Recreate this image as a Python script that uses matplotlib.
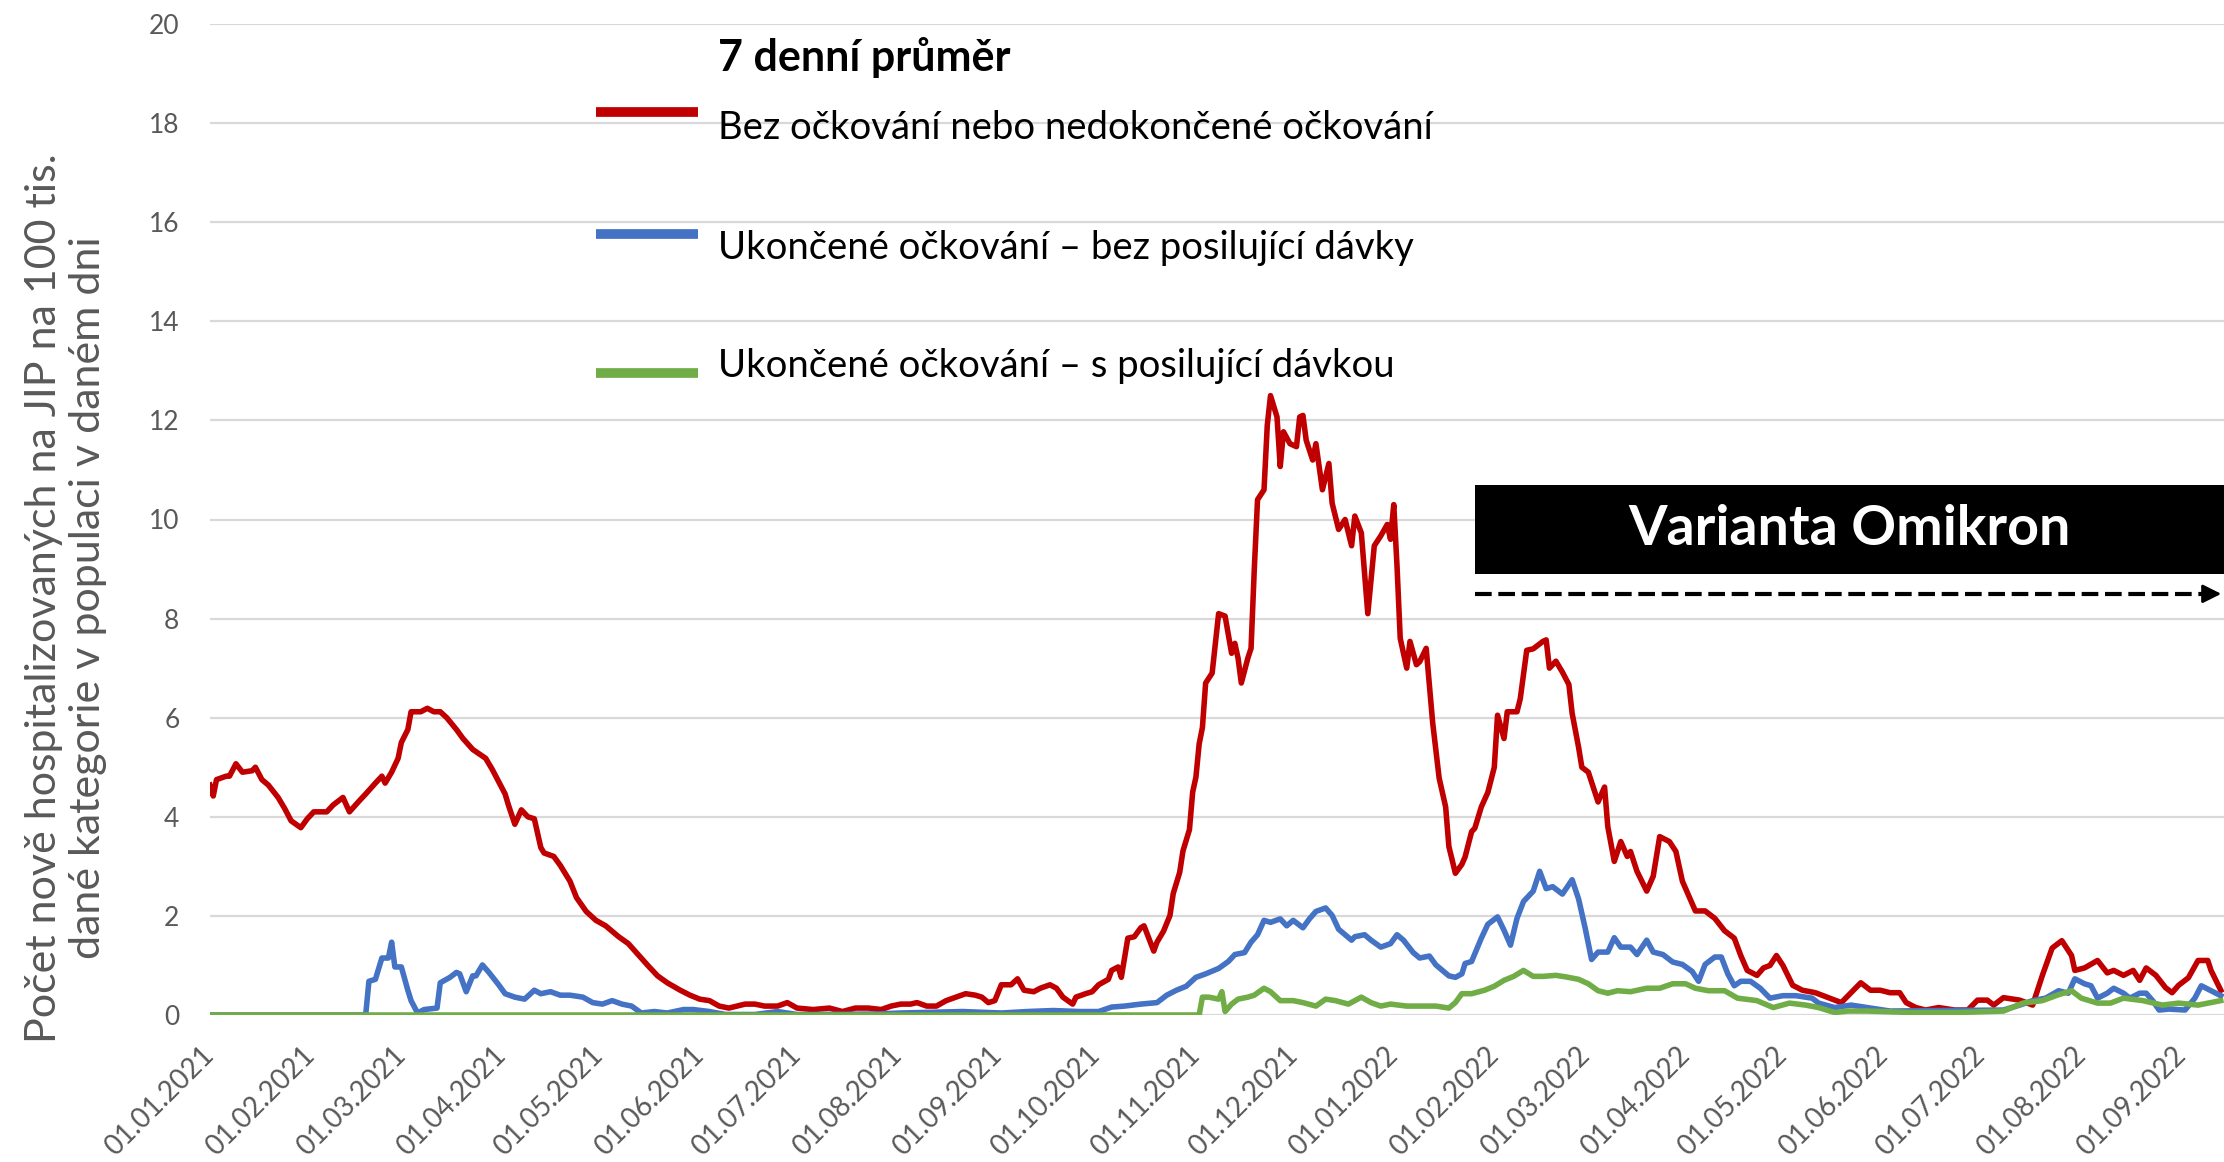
import matplotlib
matplotlib.use("Agg")
import matplotlib.pyplot as plt
import pandas as pd
from matplotlib.lines import Line2D
from matplotlib.patches import Rectangle

plt.rcParams['font.family'] = ['Lato', 'DejaVu Sans']

## ============================ Data ============================ ##
# day offsets from 01.01.2021
start = pd.Timestamp("2021-01-01")

red_days = [0, 1, 2, 5, 6, 8, 10, 13, 14, 16, 18, 21, 23, 25, 28, 30, 32, 36, 38, 41,
            43, 46, 48, 51, 53, 54, 56, 58, 59, 61, 62, 65, 67, 69, 71, 73, 76, 78, 81, 85,
            87, 89, 91, 92, 94, 96, 98, 100, 102, 103, 106, 108, 111, 113, 116, 119, 122, 126, 129, 132,
            135, 138, 141, 145, 148, 151, 154, 157, 160, 165, 168, 171, 175, 178, 181, 186, 191, 195, 199, 203,
            207, 210, 213, 216, 218, 221, 224, 227, 230, 233, 236, 238, 240, 242, 244, 247, 249, 251, 254, 256,
            259, 261, 263, 266, 267, 270, 272, 274, 277, 278, 280, 281, 283, 285, 287, 288, 291, 292, 294, 296,
            297, 299, 300, 302, 303, 304, 305, 306, 307, 309, 310, 311, 313, 315, 316, 317, 318, 320, 321, 322,
            323, 325, 326, 327, 329, 330, 331, 333, 335, 336, 337, 338, 340, 341, 343, 345, 346, 348, 350, 352,
            353, 355, 357, 359, 361, 363, 364, 365, 366, 367, 369, 370, 372, 373, 375, 377, 379, 381, 382, 384,
            386, 387, 389, 390, 392, 394, 396, 397, 399, 400, 403, 404, 406, 408, 411, 412, 413, 415, 417, 419,
            420, 422, 423, 425, 428, 430, 431, 433, 435, 437, 438, 440, 443, 445, 447, 450, 452, 454, 456, 458,
            461, 464, 467, 470, 472, 474, 477, 479, 481, 483, 485, 488, 491, 495, 499, 503, 506, 509, 512, 515,
            518, 521, 523, 526, 529, 533, 538, 542, 545, 548, 550, 553, 558, 562, 565, 568, 571, 574, 575, 578,
            582, 585, 587, 590, 593, 595, 597, 600, 603, 605, 607, 610, 613, 616, 617, 620]
red_vals = [4.64, 4.42, 4.75, 4.82, 4.82, 5.07, 4.9, 4.93, 5.0, 4.75, 4.64, 4.39, 4.17, 3.92, 3.78, 3.96, 4.1, 4.1, 4.24, 4.39,
            4.1, 4.32, 4.46, 4.68, 4.82, 4.68, 4.9, 5.18, 5.5, 5.76, 6.12, 6.12, 6.19, 6.12, 6.12, 6.0, 5.76, 5.58, 5.36, 5.18,
            4.96, 4.71, 4.46, 4.24, 3.85, 4.14, 4.0, 3.96, 3.38, 3.27, 3.2, 3.02, 2.7, 2.37, 2.09, 1.91, 1.8, 1.58, 1.44, 1.22,
            1.0, 0.79, 0.65, 0.5, 0.4, 0.32, 0.29, 0.18, 0.14, 0.22, 0.22, 0.18, 0.18, 0.25, 0.14, 0.11, 0.14, 0.07, 0.14, 0.14,
            0.11, 0.18, 0.22, 0.22, 0.25, 0.18, 0.18, 0.29, 0.36, 0.43, 0.4, 0.36, 0.25, 0.29, 0.61, 0.61, 0.73, 0.5, 0.47, 0.54,
            0.61, 0.54, 0.36, 0.22, 0.36, 0.43, 0.47, 0.61, 0.72, 0.9, 0.97, 0.76, 1.55, 1.58, 1.76, 1.8, 1.29, 1.47, 1.69, 2.01,
            2.45, 2.88, 3.31, 3.74, 4.5, 4.8, 5.47, 5.8, 6.7, 6.9, 7.5, 8.1, 8.05, 7.3, 7.5, 7.2, 6.7, 7.2, 7.4, 9.0,
            10.4, 10.6, 11.9, 12.5, 12.07, 11.07, 11.77, 11.53, 11.47, 12.07, 12.1, 11.6, 11.2, 11.53, 10.6, 11.13, 10.33, 9.8, 10.0, 9.47,
            10.07, 9.73, 8.1, 9.47, 9.67, 9.9, 9.6, 10.3, 9.07, 7.6, 7.0, 7.54, 7.07, 7.13, 7.4, 5.9, 4.78, 4.2, 3.4, 2.86,
            3.04, 3.19, 3.7, 3.77, 4.2, 4.49, 5.0, 6.05, 5.58, 6.12, 6.12, 6.38, 7.36, 7.39, 7.54, 7.57, 7.0, 7.14, 6.92, 6.67,
            6.09, 5.4, 5.0, 4.9, 4.3, 4.6, 3.8, 3.1, 3.5, 3.2, 3.3, 2.9, 2.5, 2.8, 3.6, 3.5, 3.3, 2.7, 2.4, 2.1,
            2.1, 1.95, 1.7, 1.55, 1.2, 0.9, 0.8, 0.95, 1.0, 1.2, 1.0, 0.6, 0.5, 0.45, 0.35, 0.25, 0.45, 0.65, 0.5, 0.5,
            0.45, 0.45, 0.25, 0.15, 0.1, 0.15, 0.1, 0.1, 0.3, 0.3, 0.2, 0.35, 0.3, 0.2, 0.8, 1.35, 1.5, 1.2, 0.9, 0.95,
            1.1, 0.85, 0.9, 0.8, 0.9, 0.7, 0.95, 0.8, 0.55, 0.45, 0.6, 0.75, 1.1, 1.1, 0.9, 0.5]

blue_days = [0, 48, 49, 51, 53, 55, 56, 57, 59, 61, 62, 64, 66, 70, 71, 74, 76, 77, 79, 81,
             82, 84, 86, 89, 91, 94, 97, 100, 102, 105, 108, 111, 115, 118, 121, 124, 127, 130, 133, 137,
             141, 146, 149, 154, 159, 168, 175, 181, 205, 213, 232, 244, 252, 260, 268, 274, 278, 282, 287, 292,
             295, 298, 301, 304, 307, 311, 314, 316, 319, 321, 323, 325, 327, 330, 332, 334, 337, 339, 341, 344,
             346, 348, 352, 353, 356, 358, 361, 364, 366, 368, 371, 373, 376, 378, 382, 384, 386, 387, 389, 392,
             394, 397, 399, 401, 403, 405, 408, 410, 412, 414, 417, 420, 422, 424, 426, 428, 431, 433, 435, 438,
             440, 443, 445, 448, 451, 454, 457, 459, 461, 464, 466, 468, 470, 472, 475, 478, 481, 485, 489, 494,
             496, 501, 506, 511, 518, 553, 558, 562, 566, 570, 573, 575, 578, 580, 582, 585, 587, 590, 592, 595,
             597, 599, 601, 604, 609, 612, 614, 617, 620]
blue_vals = [0, 0, 0.68, 0.72, 1.15, 1.15, 1.47, 0.97, 0.97, 0.5, 0.29, 0.04, 0.11, 0.14, 0.65, 0.76, 0.86, 0.83, 0.47, 0.79,
             0.79, 1.01, 0.86, 0.61, 0.43, 0.36, 0.32, 0.5, 0.43, 0.47, 0.4, 0.4, 0.36, 0.25, 0.22, 0.29, 0.22, 0.18, 0.04, 0.07,
             0.04, 0.11, 0.11, 0.07, 0.01, 0.01, 0.07, 0.01, 0.02, 0.04, 0.07, 0.04, 0.07, 0.09, 0.07, 0.07, 0.16, 0.18, 0.22, 0.25,
             0.4, 0.5, 0.58, 0.76, 0.83, 0.94, 1.08, 1.22, 1.26, 1.47, 1.62, 1.91, 1.87, 1.94, 1.8, 1.91, 1.76, 1.94, 2.09, 2.16,
             2.01, 1.73, 1.51, 1.58, 1.62, 1.51, 1.37, 1.44, 1.62, 1.51, 1.26, 1.15, 1.19, 1.01, 0.79, 0.76, 0.83, 1.04, 1.08, 1.55,
             1.83, 1.98, 1.71, 1.41, 1.95, 2.29, 2.5, 2.9, 2.55, 2.59, 2.44, 2.73, 2.34, 1.76, 1.12, 1.27, 1.27, 1.56, 1.37, 1.37,
             1.22, 1.51, 1.27, 1.22, 1.07, 1.02, 0.88, 0.68, 1.02, 1.17, 1.17, 0.83, 0.59, 0.68, 0.68, 0.54, 0.34, 0.39, 0.39, 0.34,
             0.24, 0.15, 0.2, 0.15, 0.08, 0.1, 0.2, 0.29, 0.34, 0.49, 0.44, 0.73, 0.63, 0.59, 0.34, 0.44, 0.54, 0.44, 0.34, 0.44,
             0.44, 0.29, 0.1, 0.12, 0.1, 0.34, 0.59, 0.49, 0.39]

green_days = [0, 305, 306, 308, 311, 312, 313, 315, 317, 320, 322, 325, 327, 330, 332, 334, 337, 341, 344, 347,
              351, 355, 358, 361, 364, 369, 374, 378, 382, 384, 386, 389, 393, 396, 399, 402, 405, 408, 411, 415,
              418, 422, 425, 428, 431, 434, 438, 443, 447, 451, 455, 458, 462, 467, 471, 477, 482, 487, 492, 496,
              501, 505, 511, 525, 539, 553, 559, 565, 570, 574, 577, 582, 586, 590, 596, 602, 607, 613, 620]
green_vals = [0, 0, 0.36, 0.36, 0.32, 0.47, 0.07, 0.22, 0.32, 0.36, 0.4, 0.54, 0.47, 0.29, 0.29, 0.29, 0.25, 0.18, 0.32, 0.29,
              0.22, 0.36, 0.25, 0.18, 0.22, 0.18, 0.18, 0.18, 0.14, 0.25, 0.43, 0.43, 0.5, 0.58, 0.7, 0.78, 0.9, 0.78, 0.78, 0.8,
              0.77, 0.72, 0.63, 0.49, 0.44, 0.49, 0.47, 0.54, 0.54, 0.63, 0.63, 0.54, 0.49, 0.49, 0.34, 0.29, 0.15, 0.24, 0.2, 0.15,
              0.05, 0.08, 0.08, 0.05, 0.05, 0.08, 0.24, 0.29, 0.41, 0.49, 0.34, 0.24, 0.24, 0.34, 0.29, 0.2, 0.24, 0.2, 0.29]

labels = ["Bez očkování nebo nedokončené očkování",
          "Ukončené očkování – bez posilující dávky",
          "Ukončené očkování – s posilující dávkou"]
colors = ["#C00000", "#4472C4", "#70AD47"]

omikron_start = 390      # day offset where the Omikron period begins
end_day = 621
omikron_y = 8.5
box_y = (8.9, 10.7)


def to_dates(days):
    return start + pd.to_timedelta(days, unit="D")


## ============================ Chart ============================ ##
W, H = 2224, 1162
fig = plt.figure(figsize=(W / 100, H / 100), dpi=100)
ax = fig.add_axes([210 / W, 1 - 1015 / H, 1 - 210 / W, (1015 - 24) / H])

for days, vals, c in zip([red_days, blue_days, green_days],
                         [red_vals, blue_vals, green_vals], colors):
    ax.plot(to_dates(days), vals, color=c, lw=4, solid_joinstyle="round", zorder=3)

ax.set_ylim(0, 20)
ax.set_yticks(range(0, 21, 2))
ax.set_xlim(start, to_dates(end_day))
month_ticks = pd.date_range("2021-01-01", "2022-09-01", freq="MS")
ax.set_xticks(month_ticks)
ax.set_xticklabels([d.strftime("%d.%m.%Y") for d in month_ticks],
                   rotation=45, ha="right", va="center", rotation_mode="anchor")
ax.tick_params(axis="x", length=0, pad=26, labelsize=20, labelcolor="#595959")
ax.tick_params(axis="y", length=0, pad=22, labelsize=19, labelcolor="#595959")
ax.grid(axis="y", color="#D9D9D9", lw=1.6)
ax.set_axisbelow(True)
for s in ax.spines.values():
    s.set_visible(False)

fig.text(66 / W, 1 - 598 / H,
         "Počet nově hospitalizovaných na JIP na 100 tis.\ndané kategorie v populaci v daném dni",
         rotation=90, ha="center", va="center", multialignment="center",
         fontsize=31, color="#595959", linespacing=1.2)

# legend drawn by hand to keep Excel-like spacing
fig.text(718 / W, 1 - 57 / H, "7 denní průměr", fontsize=31, fontweight="bold",
         ha="left", va="center", color="black")
leg_line_y = [112, 234, 373]
leg_text_y = [128, 248, 366]
for c, lab, ly, ty in zip(colors, labels, leg_line_y, leg_text_y):
    fig.add_artist(Line2D([596 / W, 698 / W], [1 - ly / H, 1 - ly / H],
                          color=c, lw=7, solid_capstyle="butt"))
    fig.text(718 / W, 1 - ty / H, lab, fontsize=27.5, ha="left", va="center", color="black")

# Omikron box and arrow
ax.add_patch(Rectangle((to_dates(omikron_start), box_y[0]),
                       to_dates(end_day) - to_dates(omikron_start), box_y[1] - box_y[0],
                       facecolor="black", edgecolor="none", zorder=5, clip_on=False))
mid = to_dates(omikron_start) + (to_dates(end_day) - to_dates(omikron_start)) / 2
ax.text(mid, sum(box_y) / 2, "Varianta Omikron", color="white", fontsize=40,
        fontweight="bold", ha="center", va="center", zorder=6)
ax.plot([to_dates(omikron_start), to_dates(end_day - 4)], [omikron_y, omikron_y],
        color="black", lw=3, dashes=(4, 1.6), zorder=5, clip_on=False)
ax.annotate("", xy=(to_dates(end_day), omikron_y), xytext=(to_dates(end_day - 6), omikron_y),
            arrowprops=dict(arrowstyle="-|>", color="black", lw=2, mutation_scale=28),
            zorder=6, annotation_clip=False)

fig.savefig("out.png", dpi=100)
